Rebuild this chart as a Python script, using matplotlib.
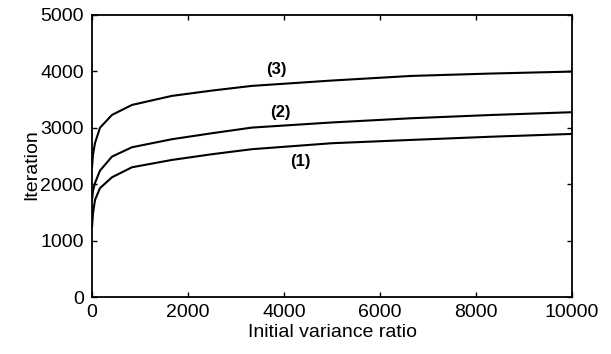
import matplotlib
matplotlib.use('Agg')
import matplotlib.pyplot as plt

# 数据
ratio = [0, 20, 62, 166, 416, 832, 1663, 2495, 3326, 4990, 6653, 8300, 10000]
iter1 = [1240, 1480, 1720, 1930, 2122, 2299, 2429, 2530, 2619, 2725, 2784, 2840, 2890]
iter2 = [1720, 1880, 2020, 2240, 2488, 2654, 2796, 2902, 3002, 3093, 3168, 3225, 3275]
iter3 = [2300, 2520, 2730, 3000, 3227, 3404, 3564, 3658, 3741, 3836, 3918, 3960, 3995]

labels = ['(1)', '(2)', '(3)']
label_x = [4345, 3930, 3846]
label_y = [2399, 3268, 4037]

plt.rcParams['font.family'] = ['Liberation Sans', 'DejaVu Sans']

fig = plt.figure(figsize=(6.11, 3.54), dpi=100)
ax = fig.add_axes([0.1506, 0.161, 0.7856, 0.797])

for ys in (iter1, iter2, iter3):
    ax.plot(ratio, ys, color='black', lw=1.5)

for txt, x, y in zip(labels, label_x, label_y):
    ax.text(x, y, txt, fontsize=12, fontweight='bold', ha='center', va='center')

# 坐标轴范围和刻度
ax.set_xlim(0, 10000)
ax.set_ylim(0, 5000)
ax.set_xticks(range(0, 10001, 2000))
ax.set_yticks(range(0, 5001, 1000))
ax.tick_params(direction='in', top=True, right=True, labelsize=14, length=3.5, width=1)
ax.tick_params(axis='x', pad=5)
ax.tick_params(axis='y', pad=6)
for s in ax.spines.values():
    s.set_linewidth(1.3)

ax.set_xlabel('Initial variance ratio', fontsize=14, labelpad=2.5)
ax.set_ylabel('Iteration', fontsize=14, labelpad=0, y=0.468)

plt.savefig('out.png', dpi=100)
